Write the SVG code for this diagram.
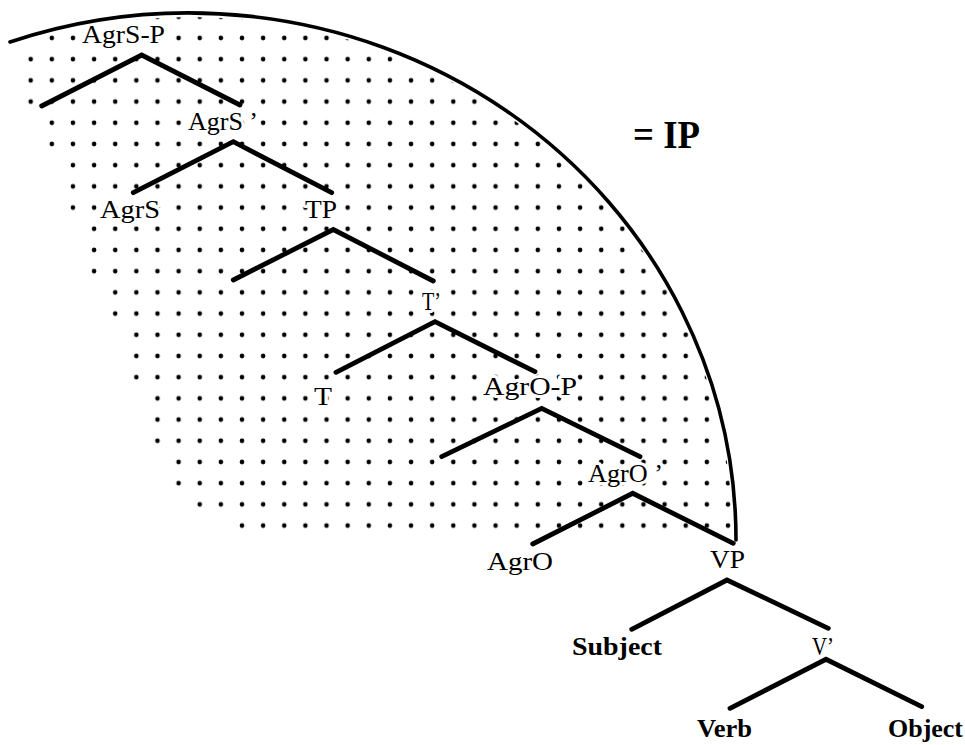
<svg xmlns="http://www.w3.org/2000/svg" width="965" height="745" viewBox="0 0 965 745">
<style>
.lbl{font-family:"Liberation Serif","Times New Roman",serif;font-size:25px;fill:#000;paint-order:stroke;stroke:#fff;stroke-width:6px;stroke-linejoin:round;}
.b{font-weight:bold;}
.ip{font-size:39px;font-weight:bold;}
.edge{fill:none;stroke:#000;stroke-width:4.8;stroke-linecap:round;stroke-linejoin:miter;}
.arc{fill:none;stroke:#000;stroke-width:3.6;stroke-linecap:round;}
</style>
<defs>
<pattern id="dots" patternUnits="userSpaceOnUse" x="20.1" y="27.4" width="21.13" height="21.2">
<circle cx="10.6" cy="10.6" r="2.3" fill="#000"/>
</pattern>
<clipPath id="arcClip"><ellipse cx="190" cy="540" rx="543" ry="523"/></clipPath>
<clipPath id="stairClip"><path d="M41.7,0 V48.6 H20.7 V112.2 H41.8 V154.6 H63 V218.2 H84 V281.8 H105 V324.2 H126 V387.8 H147.5 V451.4 H168.6 V493.8 H189.7 V515 H232 V536.2 H800 V0 Z"/></clipPath>
</defs>
<rect width="965" height="745" fill="#fff"/>
<g id="shading" clip-path="url(#arcClip)">
<rect x="0" y="0" width="800" height="545" fill="url(#dots)" clip-path="url(#stairClip)"/>
</g>
<g id="ip-label"><text class="lbl ip" x="633" y="148" textLength="67" lengthAdjust="spacingAndGlyphs">= IP</text></g>
<g id="n-agrsp"><text class="lbl" x="82" y="43" textLength="83" lengthAdjust="spacingAndGlyphs">AgrS-P</text></g>
<g id="n-agrsbar"><text class="lbl" x="188" y="130" textLength="70" lengthAdjust="spacingAndGlyphs">AgrS ’</text></g>
<g id="n-agrs"><text class="lbl" x="100" y="218" textLength="60" lengthAdjust="spacingAndGlyphs">AgrS</text></g>
<g id="n-tp"><text class="lbl" x="305" y="218" textLength="32" lengthAdjust="spacingAndGlyphs">TP</text></g>
<g id="n-tbar"><text class="lbl" x="422" y="310" textLength="19" lengthAdjust="spacingAndGlyphs">T’</text></g>
<g id="n-t"><text class="lbl" x="314" y="405" textLength="18" lengthAdjust="spacingAndGlyphs">T</text></g>
<g id="n-agrop"><text class="lbl" x="483" y="395" textLength="94" lengthAdjust="spacingAndGlyphs">AgrO-P</text></g>
<g id="n-agrobar"><text class="lbl" x="588" y="482" textLength="75" lengthAdjust="spacingAndGlyphs">AgrO ’</text></g>
<g id="n-agro"><text class="lbl" x="487" y="570" textLength="66" lengthAdjust="spacingAndGlyphs">AgrO</text></g>
<g id="n-vp"><text class="lbl" x="710" y="568" textLength="35" lengthAdjust="spacingAndGlyphs">VP</text></g>
<g id="n-subject"><text class="lbl b" x="572" y="655" textLength="90" lengthAdjust="spacingAndGlyphs">Subject</text></g>
<g id="n-vbar"><text class="lbl" x="812" y="655" textLength="22" lengthAdjust="spacingAndGlyphs">V’</text></g>
<g id="n-verb"><text class="lbl b" x="697" y="737" textLength="55" lengthAdjust="spacingAndGlyphs">Verb</text></g>
<g id="n-object"><text class="lbl b" x="888" y="737" textLength="75" lengthAdjust="spacingAndGlyphs">Object</text></g>
<g id="connectors">
<polyline class="edge" points="41.7,106 141.7,55 240,105"/>
<polyline class="edge" points="133.3,192.7 233.3,141.7 331.7,192.7"/>
<polyline class="edge" points="233.3,280 333.3,229.5 433.3,281"/>
<polyline class="edge" points="336,372.3 435,321.7 535,371.7"/>
<polyline class="edge" points="441.7,456.7 541.7,408.3 640,456.7"/>
<polyline class="edge" points="532.7,544 632.7,493.3 733.3,543.3"/>
<polyline class="edge" points="631.7,629.3 727,580 828.3,628.3"/>
<polyline class="edge" points="730,708.3 826,659.3 921.7,706.7"/>
</g>
<path class="arc" d="M10,42 A547,527 0 0,1 736,540"/>
</svg>
